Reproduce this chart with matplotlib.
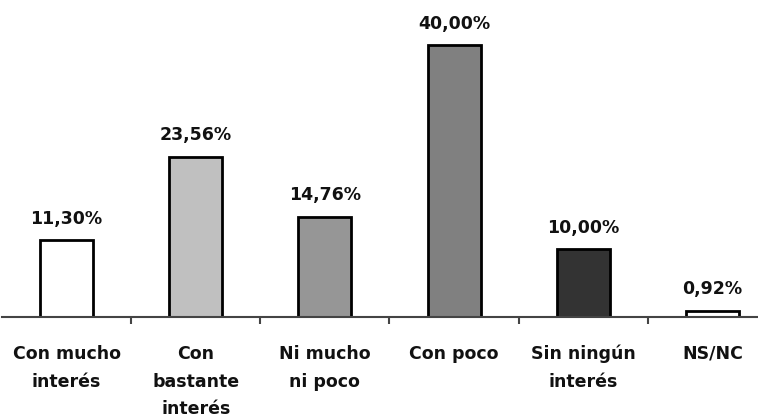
import matplotlib.pyplot as plt

CATEGORIES = [
    "Con mucho\ninterés",
    "Con\nbastante\ninterés",
    "Ni mucho\nni poco",
    "Con poco",
    "Sin ningún\ninterés",
    "NS/NC",
]
VALUES = [11.30, 23.56, 14.76, 40.00, 10.00, 0.92]
COLORS = ["#ffffff", "#c0c0c0", "#969696", "#808080", "#333333", "#ffffff"]

fig = plt.figure(figsize=(7.58, 4.2), dpi=100)
ax = fig.add_axes([2 / 758, 103 / 420, 775 / 758, 317 / 420])

x = range(len(VALUES))
ax.bar(x, VALUES, width=0.41, color=COLORS, edgecolor="black", linewidth=2)

for i, v in enumerate(VALUES):
    ax.text(i, v + 1.8, f"{v:.2f}%".replace(".", ","), ha="center", va="bottom",
            fontsize=12.5, fontweight="bold", color="#111111")

ax.set_xlim(-0.5, 5.5)
ax.set_ylim(0, 46.6)

ax.set_xticks(list(x))
ax.set_xticklabels(CATEGORIES, fontsize=12.5, fontweight="bold", color="#111111",
                   linespacing=1.7)
ax.tick_params(axis="x", which="major", length=0, pad=20)
ax.set_xticks([i + 0.5 for i in range(5)], minor=True)
ax.tick_params(axis="x", which="minor", length=5, width=1.5, color="#444444")

ax.set_yticks([])
for s in ["top", "right", "left"]:
    ax.spines[s].set_visible(False)
ax.spines["bottom"].set_color("#444444")
ax.spines["bottom"].set_linewidth(1.5)

fig.savefig("out.png", dpi=100)
